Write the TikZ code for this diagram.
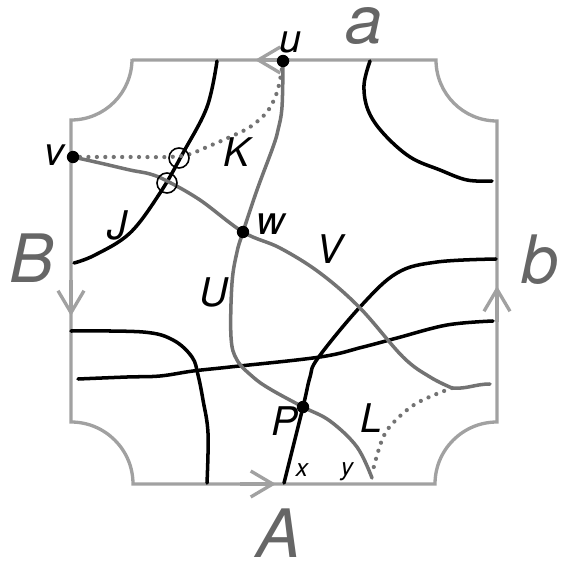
\documentclass[tikz,border=0pt]{standalone}
\usepackage{fontspec}
\setmainfont{TeX Gyre Heros}
\usetikzlibrary{arrows.meta}
\definecolor{edgegray}{gray}{0.63}
\definecolor{pathgray}{gray}{0.45}
\definecolor{sidegray}{gray}{0.4}

\begin{document}
\begin{tikzpicture}[x=0.02cm, y=-0.02cm,
	side/.style={draw=edgegray, line width=1.9pt},
	barb/.style={side, -{Straight Barb[length=0.44cm, width=0.52cm]}},
	curve/.style={draw=black, line width=2pt, line cap=round},
	gcurve/.style={draw=pathgray, line width=2pt, line cap=round},
	gdots/.style={draw=pathgray, line width=2.4pt, line cap=round, dash pattern=on 0pt off 4.8pt},
	big/.style={text=sidegray, inner sep=0pt, font=\fontsize{38}{38}\selectfont\itshape},
	lbl/.style={inner sep=0pt, font=\fontsize{22.5}{22.5}\selectfont\itshape},
	tiny/.style={inner sep=0pt, font=\fontsize{14}{14}\selectfont\itshape}]
	\useasboundingbox (0,0) rectangle (561,567);
	\coordinate (u) at (283,61); \coordinate (v) at (73,157);
	\coordinate (w) at (243,232); \coordinate (P) at (303,407);
	\coordinate (k) at (452,388);
	% the square with its cut corners
	\draw[side] (132,60) -- (436,60) arc[start angle=180, end angle=90, radius=61]
		-- (497,422) arc[start angle=270, end angle=180, radius=62]
		-- (133,484) arc[start angle=0, end angle=-90, radius=62]
		-- (71,120) arc[start angle=90, end angle=0, radius=61] -- cycle;
	\draw[barb] (290,60) -- (255,60);
	\draw[barb] (71,280) -- (71,316);
	\draw[barb] (497,322) -- (497,286);
	\draw[barb] (240,484) -- (276,484);
	% black curves
	\draw[curve] plot[smooth, tension=0.6] coordinates {(217,61) (207,107) (183,153) (160,193) (130,233) (95,255) (74,263)};
	\draw[curve] plot[smooth, tension=0.6] coordinates {(370,61) (364,85) (368,110) (383,133) (410,157) (440,170) (467,180) (492,181)};
	\draw[curve] plot[smooth, tension=0.6] coordinates {(71,331) (143,332) (173,340) (192,357) (198,375) (203,400) (208,433) (207,483)};
	\draw[curve] plot[smooth, tension=0.6] coordinates {(78,379) (127,377) (160,376) (193,371) (230,367) (320,357) (363,347) (397,338) (447,325) (493,321)};
	\draw[curve] plot[smooth, tension=0.6] coordinates {(284,483) (P) (310,377) (318,358) (360,307) (397,273) (437,262) (496,259)};
	% gray curves
	\draw[gcurve] plot[smooth, tension=0.6] coordinates {(v) (100,163) (130,170) (150,174) (167,181) (200,200) (w) (280,248) (320,273) (360,308) (403,357) (430,377) (k)};
	\draw[gcurve] (k) to[out=-5, in=180] (490,384);
	\draw[gcurve] plot[smooth, tension=0.6] coordinates {(u) (282,107) (278,130) (273,147) (257,190) (w) (237,252) (232,283) (231,337) (237,360) (253,377) (270,389) (P) (330,421) (357,447) (372,478)};
	\draw[gdots] plot[smooth, tension=0.6] coordinates {(u) (280,80) (276,95) (267,112) (250,127) (230,137) (207,147) (187,155) (167,157) (133,157) (v)};
	\draw[gdots] plot[smooth, tension=0.6] coordinates {(k) (417,403) (393,423) (382,440) (373,470)};
	% crossings and points
	\draw[line width=0.9pt] (179,158) circle[radius=10] (167,183) circle[radius=10];
	\foreach \p in {u,v,w,P} \fill (\p) circle[radius=6.2];
	\node[big] (la) at (364,26) {a};
	\node[big] (lb) at (540,260) {b};
	\node[big] (lB) at (32,258) {B};
	\node[big] (lA) at (279,533) {A};
	\node[lbl] (lu) at (290,42) {u};
	\node[lbl] (lv) at (54,155) {v};
	\node[lbl] (lw) at (271,224) {w};
	\node[lbl] (lK) at (237,152) {K};
	\node[lbl] (lJ) at (117,225) {J};
	\node[lbl] (lU) at (214,292) {U};
	\node[lbl] (lV) at (330,249) {V};
	\node[lbl] (lP) at (285,421) {P};
	\node[lbl] (lL) at (371,418) {L};
	\node[tiny] (lx) at (302,470) {x};
	\node[tiny] (ly) at (347,472) {y};
\end{tikzpicture}
\end{document}
